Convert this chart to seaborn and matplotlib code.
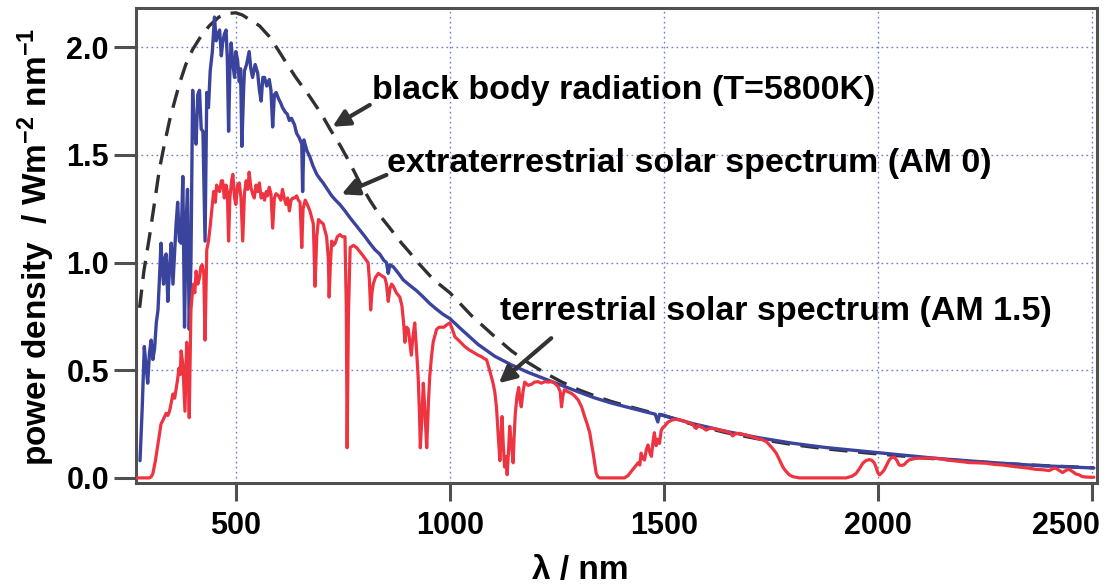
import matplotlib
matplotlib.use("Agg")
import matplotlib.pyplot as plt
import matplotlib.transforms as mtransforms
import seaborn as sns
import numpy as np
import pandas as pd

# ---------------- data ----------------
bb_wl = [275, 285, 298, 310, 321, 333, 345, 357, 368, 383, 399, 418, 438, 460, 480,
         500, 515, 531, 555, 578, 598, 617, 640, 673, 700, 720, 745, 767, 790, 813,
         836, 860, 883, 907, 930, 953, 975, 1000, 1050, 1100, 1144, 1183, 1222, 1261,
         1300, 1340, 1377, 1416, 1455, 1500, 1568, 1646, 1724, 1801, 1879, 1980, 2100,
         2200, 2300, 2400, 2505]
bb_val = [0.79, 0.96, 1.12, 1.28, 1.43, 1.55, 1.66, 1.75, 1.83, 1.92, 1.99, 2.05, 2.10,
          2.14, 2.157, 2.16, 2.15, 2.13, 2.10, 2.05, 1.99, 1.93, 1.86, 1.77, 1.69, 1.62,
          1.54, 1.46, 1.37, 1.29, 1.22, 1.16, 1.10, 1.045, 0.99, 0.94, 0.90, 0.86, 0.755,
          0.665, 0.59, 0.535, 0.488, 0.446, 0.41, 0.38, 0.355, 0.333, 0.312, 0.29, 0.248,
          0.210, 0.180, 0.155, 0.135, 0.115, 0.094, 0.079, 0.066, 0.056, 0.047]

am0_wl = [276, 281, 286, 290, 294, 298, 302, 306, 310, 314, 318, 322, 325, 328, 331, 334,
          337, 341, 345, 349, 353, 357, 360, 364, 368, 372, 376, 380, 384, 387, 391, 395,
          399, 403, 407, 411, 415, 419, 423, 428, 432, 436, 440, 445, 450, 454, 458, 462,
          466, 469, 473, 477, 480, 483, 486, 489, 493, 497, 500, 504, 508, 511, 514, 518,
          520, 525, 531, 535, 539, 545, 551, 555, 559, 563, 567, 572, 578, 582, 586, 590,
          594, 600, 605, 609, 615, 620, 625, 630, 637, 642, 648, 654, 656, 659, 666, 673,
          680, 689, 696, 704, 714, 724, 733, 743, 755, 766, 778, 790, 802, 813, 825, 836,
          846, 852, 856, 860, 868, 880, 891, 906, 922, 938, 953, 968, 984, 1000, 1027,
          1066, 1105, 1144, 1183, 1222, 1261, 1300, 1338, 1377, 1416, 1455, 1480, 1486,
          1490, 1568, 1646, 1724, 1801, 1879, 1980, 2058, 2136, 2214, 2292, 2369, 2447, 2505]
am0_val = [0.08, 0.32, 0.61, 0.52, 0.44, 0.58, 0.64, 0.55, 0.60, 0.72, 0.78, 0.95, 1.09,
           0.98, 0.90, 1.02, 1.04, 0.82, 0.98, 1.09, 0.90, 1.05, 1.17, 1.28, 1.10, 1.09,
           1.40, 0.70, 1.20, 1.34, 0.69, 1.00, 1.80, 1.62, 1.55, 1.78, 1.80, 1.62, 1.61,
           1.10, 1.79, 1.72, 1.89, 1.98, 2.14, 2.03, 2.06, 2.08, 1.96, 2.02, 2.06, 2.08,
           1.95, 1.61, 1.90, 2.02, 1.92, 1.86, 1.98, 1.94, 1.84, 1.90, 1.54, 1.80, 1.89,
           1.92, 1.98, 1.90, 1.86, 1.92, 1.88, 1.80, 1.75, 1.86, 1.86, 1.82, 1.85, 1.80,
           1.63, 1.78, 1.79, 1.76, 1.74, 1.72, 1.70, 1.69, 1.66, 1.67, 1.64, 1.60, 1.58,
           1.55, 1.33, 1.57, 1.52, 1.49, 1.45, 1.41, 1.39, 1.37, 1.34, 1.31, 1.29, 1.27,
           1.24, 1.21, 1.18, 1.15, 1.12, 1.09, 1.06, 1.04, 1.01, 1.00, 0.95, 0.99, 0.98,
           0.95, 0.92, 0.895, 0.87, 0.84, 0.81, 0.785, 0.76, 0.74, 0.69, 0.62, 0.565, 0.525,
           0.49, 0.46, 0.43, 0.40, 0.372, 0.348, 0.328, 0.308, 0.296, 0.26, 0.295, 0.252,
           0.216, 0.186, 0.161, 0.141, 0.121, 0.106, 0.091, 0.079, 0.068, 0.058, 0.051, 0.046]

am15_wl = [268, 285, 298, 302, 306, 312, 318, 322, 325, 330, 337, 341, 345, 349, 353, 357,
           360, 364, 367, 370, 372, 376, 381, 385, 388, 391, 395, 398, 401, 404, 407, 411,
           415, 418, 421, 425, 428, 432, 436, 440, 444, 448, 452, 455, 458, 462, 466, 469,
           473, 477, 480, 483, 486, 490, 493, 497, 500, 504, 508, 512, 516, 520, 524, 528,
           531, 535, 539, 543, 547, 551, 555, 559, 563, 567, 571, 574, 578, 582, 586, 590,
           594, 600, 605, 609, 613, 617, 621, 625, 629, 633, 637, 642, 646, 650, 654, 657,
           662, 667, 673, 677, 681, 685, 689, 693, 698, 704, 708, 712, 716, 718, 721, 724,
           728, 732, 737, 743, 749, 755, 758, 760, 763, 767, 775, 782, 790, 798, 805, 809,
           812, 815, 818, 821, 826, 833, 840, 848, 852, 856, 860, 864, 868, 875, 883, 888,
           892, 895, 899, 903, 907, 910, 914, 918, 922, 926, 929, 931, 934, 938, 942, 946,
           950, 953, 957, 961, 965, 969, 975, 980, 986, 992, 1000, 1006, 1012, 1020, 1035,
           1045, 1058, 1066, 1074, 1080, 1086, 1093, 1097, 1101, 1105, 1109, 1113, 1117,
           1120, 1122, 1125, 1128, 1131, 1134, 1137, 1140, 1144, 1148, 1150, 1153, 1157,
           1161, 1164, 1167, 1171, 1175, 1183, 1191, 1198, 1206, 1214, 1222, 1230, 1237,
           1245, 1253, 1258, 1261, 1264, 1268, 1276, 1284, 1292, 1300, 1308, 1315, 1321,
           1327, 1331, 1335, 1339, 1342, 1346, 1350, 1380, 1408, 1416, 1424, 1432, 1440,
           1444, 1447, 1451, 1455, 1459, 1463, 1467, 1471, 1475, 1478, 1482, 1486, 1490,
           1494, 1498, 1502, 1510, 1521, 1530, 1537, 1545, 1552, 1560, 1568, 1572, 1576,
           1580, 1584, 1592, 1599, 1607, 1615, 1630, 1646, 1655, 1661, 1667, 1677, 1690,
           1700, 1708, 1720, 1731, 1740, 1747, 1755, 1763, 1769, 1774, 1780, 1786, 1793,
           1801, 1817, 1926, 1940, 1949, 1958, 1965, 1972, 1980, 1986, 1992, 1996, 2000,
           2004, 2010, 2015, 2022, 2027, 2033, 2039, 2045, 2050, 2056, 2062, 2068, 2074,
           2089, 2110, 2136, 2155, 2175, 2195, 2214, 2235, 2253, 2272, 2292, 2310, 2331,
           2350, 2369, 2385, 2401, 2410, 2416, 2424, 2432, 2440, 2447, 2455, 2463, 2470,
           2478, 2488, 2498, 2505]
am15_val = [0.0, 0.0, 0.0, 0.005, 0.02, 0.08, 0.16, 0.21, 0.25, 0.27, 0.30, 0.29, 0.31,
            0.35, 0.39, 0.37, 0.41, 0.46, 0.51, 0.48, 0.59, 0.53, 0.31, 0.63, 0.55, 0.28,
            0.78, 0.85, 0.90, 0.86, 0.96, 0.90, 0.93, 0.98, 0.99, 0.95, 0.64, 1.06, 1.10,
            1.17, 1.25, 1.33, 1.28, 1.36, 1.34, 1.33, 1.38, 1.38, 1.30, 1.36, 1.33, 1.10,
            1.30, 1.38, 1.41, 1.30, 1.27, 1.36, 1.37, 1.30, 1.10, 1.32, 1.38, 1.34, 1.42,
            1.35, 1.32, 1.30, 1.36, 1.33, 1.37, 1.30, 1.32, 1.29, 1.33, 1.31, 1.35, 1.32,
            1.16, 1.30, 1.32, 1.31, 1.29, 1.34, 1.30, 1.27, 1.30, 1.24, 1.29, 1.30, 1.30,
            1.31, 1.29, 1.28, 1.07, 1.25, 1.29, 1.27, 1.24, 1.21, 1.18, 0.89, 1.12, 1.20,
            1.19, 1.18, 1.15, 1.12, 1.02, 0.84, 1.00, 1.10, 1.08, 1.09, 1.12, 1.13, 1.12,
            1.12, 0.80, 0.14, 0.75, 1.07, 1.08, 1.07, 1.05, 1.03, 1.01, 1.00, 0.92, 0.78,
            0.86, 0.90, 0.93, 0.95, 0.94, 0.93, 0.90, 0.82, 0.88, 0.90, 0.89, 0.86, 0.84,
            0.80, 0.72, 0.63, 0.70, 0.69, 0.62, 0.57, 0.66, 0.72, 0.60, 0.47, 0.30, 0.14,
            0.25, 0.44, 0.30, 0.14, 0.35, 0.47, 0.56, 0.63, 0.66, 0.69, 0.70, 0.70, 0.70,
            0.71, 0.72, 0.69, 0.655, 0.64, 0.61, 0.595, 0.58, 0.57, 0.563, 0.555, 0.548,
            0.50, 0.47, 0.44, 0.40, 0.33, 0.20, 0.08, 0.20, 0.285, 0.15, 0.05, 0.10, 0.015,
            0.12, 0.24, 0.15, 0.07, 0.18, 0.30, 0.38, 0.42, 0.36, 0.33, 0.40, 0.445, 0.43,
            0.435, 0.445, 0.447, 0.44, 0.447, 0.445, 0.447, 0.44, 0.424, 0.40, 0.33, 0.38,
            0.41, 0.40, 0.393, 0.38, 0.362, 0.33, 0.285, 0.25, 0.21, 0.16, 0.115, 0.06,
            0.022, 0.005, 0.0, 0.0, 0.0, 0.01, 0.03, 0.05, 0.07, 0.06, 0.115, 0.09, 0.083,
            0.13, 0.153, 0.12, 0.10, 0.17, 0.21, 0.15, 0.18, 0.16, 0.22, 0.235, 0.24, 0.26,
            0.27, 0.272, 0.27, 0.265, 0.26, 0.255, 0.25, 0.235, 0.23, 0.245, 0.24, 0.232,
            0.222, 0.23, 0.23, 0.222, 0.215, 0.21, 0.195, 0.205, 0.207, 0.20, 0.195, 0.19,
            0.182, 0.177, 0.168, 0.153, 0.135, 0.114, 0.09, 0.068, 0.045, 0.03, 0.015,
            0.006, 0.0, 0.0, 0.008, 0.02, 0.045, 0.068, 0.08, 0.085, 0.082, 0.07, 0.05,
            0.025, 0.014, 0.025, 0.037, 0.065, 0.084, 0.095, 0.096, 0.08, 0.06, 0.058,
            0.062, 0.075, 0.084, 0.091, 0.092, 0.091, 0.086, 0.08, 0.076, 0.071, 0.07,
            0.068, 0.063, 0.06, 0.055, 0.05, 0.046, 0.04, 0.038, 0.034, 0.044, 0.045,
            0.035, 0.025, 0.035, 0.04, 0.03, 0.018, 0.015, 0.006, 0.004, 0.003, 0.003]

x_ticks = [500, 1000, 1500, 2000, 2500]
x_tick_labels = ["500", "1000", "1500", "2000", "2500"]
y_ticks = [0.0, 0.5, 1.0, 1.5, 2.0]
y_tick_labels = ["0.0", "0.5", "1.0", "1.5", "2.0"]

label_bb = "black body radiation (T=5800K)"
label_am0 = "extraterrestrial solar spectrum (AM 0)"
label_am15 = "terrestrial solar spectrum (AM 1.5)"

# ---------------- style ----------------
sns.set_style("white")
plt.rcParams["font.family"] = ["Liberation Sans", "DejaVu Sans"]
plt.rcParams["font.weight"] = "bold"
plt.rcParams["text.color"] = "black"
plt.rcParams["axes.labelcolor"] = "black"
plt.rcParams["mathtext.fontset"] = "custom"
plt.rcParams["mathtext.rm"] = "Liberation Sans:bold"
plt.rcParams["mathtext.bf"] = "Liberation Sans:bold"
plt.rcParams["mathtext.it"] = "Liberation Sans:bold"
plt.rcParams["mathtext.default"] = "bf"

BLUE = "#3b449c"
RED = "#ee3440"
DASH = "#303030"
AXC = "#505050"
GRID = "#6b7bd0"

fig = plt.figure(figsize=(11.13, 5.85), dpi=100)
ax = fig.add_axes([136 / 1113, 1 - 483.3 / 585, (1096.7 - 136) / 1113, (483.3 - 8.3) / 585])

sns.lineplot(x=bb_wl, y=bb_val, ax=ax, color=DASH, linewidth=2.4,
             estimator=None, sort=False, zorder=3)
ax.lines[-1].set_dashes((5.5, 3.2))
sns.lineplot(x=am0_wl, y=am0_val, ax=ax, color=BLUE, linewidth=2.4,
             estimator=None, sort=False, zorder=4)
sns.lineplot(x=am15_wl, y=am15_val, ax=ax, color=RED, linewidth=2.3,
             estimator=None, sort=False, zorder=5)

ax.set_xlim(266.6, 2511.7)
ax.set_ylim(-0.025, 2.181)
ax.set_xticks(x_ticks)
ax.set_xticklabels(x_tick_labels)
ax.set_yticks(y_ticks)
ax.set_yticklabels(y_tick_labels)

ax.grid(True, color=GRID, linestyle=(0, (1.2, 2.4)), linewidth=1.0, zorder=0)
ax.set_axisbelow(True)
ax.yaxis.get_gridlines()[0].set_visible(False)

for s in ax.spines.values():
    s.set_visible(True)
    s.set_color(AXC)
    s.set_linewidth(2.2)

ax.tick_params(axis="x", direction="out", length=13, width=2.2, color=AXC,
               pad=7, labelsize=22, labelcolor="black", bottom=True)
ax.tick_params(axis="y", direction="out", length=16, width=2.2, color=AXC,
               pad=3.5, labelsize=22, labelcolor="black", left=True)
for t in ax.get_xticklabels() + ax.get_yticklabels():
    t.set_fontweight("bold")
    t.set_color("black")

# last x tick label pulled inside the figure, as in the reference
last = ax.get_xticklabels()[-1]
last.set_horizontalalignment("right")
last.set_transform(last.get_transform() +
                   mtransforms.ScaledTranslation(8 / 100, 0, fig.dpi_scale_trans))

ax.set_xlabel("λ / nm", fontsize=24, fontweight="bold", va="center", color="black")
ax.xaxis.set_label_coords(0.463, -0.183)
ax.set_ylabel("power density  / Wm$^{-2}$ nm$^{-1}$", fontsize=24,
              fontweight="bold", va="center", ha="center", color="black")
ax.yaxis.set_label_coords(-0.104, 0.497)

# annotations
ax.text(817.5, 1.80, label_bb, fontsize=24.5, fontweight="bold", ha="left",
        va="center", color="black")
ax.text(852.5, 1.462, label_am0, fontsize=24.5, fontweight="bold", ha="left",
        va="center", color="black")
ax.text(1116.3, 0.771, label_am15, fontsize=24.5, fontweight="bold", ha="left",
        va="center", color="black")

arrow_kw = dict(arrowstyle="-|>,head_length=1.0,head_width=0.5", color="#333333",
                lw=3.0, shrinkA=0, shrinkB=0)
ax.annotate("", xy=(725.8, 1.631), xytext=(812.8, 1.732), arrowprops=arrow_kw, zorder=6)
ax.annotate("", xy=(746.8, 1.317), xytext=(851.8, 1.407), arrowprops=arrow_kw, zorder=6)
ax.annotate("", xy=(1114.6, 0.44), xytext=(1237.0, 0.649), arrowprops=arrow_kw, zorder=6)

fig.savefig("out.png", dpi=100)
